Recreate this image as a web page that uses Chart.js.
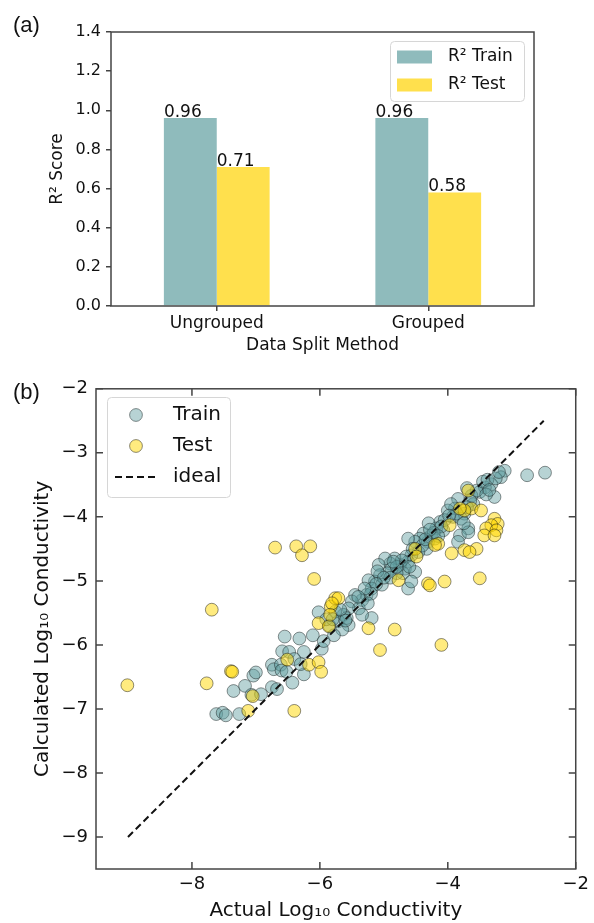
<!DOCTYPE html>
<html lang="en">
<head>
<meta charset="UTF-8">
<title>R2 scores and parity plot</title>
<script src="https://cdn.jsdelivr.net/npm/chart.js"></script>
<style>
  body { margin: 0; background: #fff; }
  #page { position: relative; width: 594px; height: 923px; }
  canvas { position: absolute; left: 0; }
  .tag { position: absolute; left: 13px; z-index: 2; font-family: "Liberation Sans", Arial, sans-serif; font-size: 22px; line-height: 26px; color: #111; }
</style>
</head>
<body>
<div id="page">
  <canvas id="barChart" width="594" height="370" style="top:0"></canvas>
  <canvas id="parityChart" width="594" height="553" style="top:370px"></canvas>
  <div class="tag" style="top:12px">(a)</div>
  <div class="tag" style="top:379px">(b)</div>
</div>

<script>
// (a) R2 scores per split method
const splitMethods = ['Ungrouped', 'Grouped'];
const r2Train = [0.96, 0.96];
const r2Test = [0.71, 0.58];
const r2Ticks = [0, 0.2, 0.4, 0.6, 0.8, 1.0, 1.2, 1.4];

// (b) actual vs calculated log10 conductivity  [actual, calculated]
const trainPoints = [
  [-7.62,-7.08],[-7.52,-7.06],[-7.47,-7.10],[-7.26,-7.08],[-7.35,-6.72],[-7.17,-6.64],[-7.04,-6.48],[-7.00,-6.43],
  [-7.07,-6.78],[-6.92,-6.77],[-6.75,-6.31],[-6.72,-6.38],[-6.75,-6.66],[-6.67,-6.69],[-6.59,-6.10],[-6.48,-6.11],
  [-6.61,-6.31],[-6.55,-5.87],[-6.43,-6.59],[-6.32,-5.90],[-6.25,-6.11],[-6.25,-6.46],[-6.11,-5.85],[-6.02,-5.49],
  [-5.97,-6.06],[-5.94,-5.94],[-6.40,-6.22],[-6.30,-6.30],[-6.60,-6.40],[-6.52,-6.42],
  [-2.48,-3.31],[-2.76,-3.35],[-3.11,-3.28],[-3.17,-3.38],[-3.27,-3.69],[-3.32,-3.49],[-3.42,-3.54],[-3.50,-3.61],
  [-3.63,-3.67],[-3.55,-3.59],[-3.84,-3.72],[-3.89,-3.87],[-4.00,-3.90],[-3.92,-4.00],[-3.74,-3.95],[-3.79,-4.03],
  [-3.68,-4.18],[-3.81,-4.29],[-3.84,-4.39],[-4.12,-4.08],[-4.18,-4.18],[-4.07,-4.21],[-4.26,-4.29],[-4.20,-4.34],
  [-4.31,-4.39],[-4.38,-4.26],[-4.44,-4.34],[-4.51,-4.39],[-4.62,-4.34],[-4.33,-4.50],[-4.46,-4.55],[-4.57,-4.60],
  [-4.62,-4.70],[-4.67,-4.81],[-4.75,-4.75],[-4.70,-4.88],[-4.51,-4.86],[-4.83,-4.65],[-4.90,-4.73],[-4.98,-4.65],
  [-4.88,-4.81],[-4.80,-4.88],[-4.95,-4.88],[-5.08,-4.75],[-5.06,-4.91],[-5.14,-5.01],[-5.24,-4.99],[-5.19,-5.12],
  [-5.03,-5.06],[-5.27,-5.22],[-5.34,-5.30],[-5.45,-5.22],[-5.50,-5.32],[-5.39,-5.43],[-5.55,-5.43],[-5.19,-5.58],
  [-5.34,-5.53],[-5.63,-5.53],[-5.71,-5.63],[-5.55,-5.69],[-5.65,-5.76],[-5.76,-5.48],[-4.62,-5.12],[-4.57,-5.01],
  [-3.68,-4.24],[-3.95,-3.80],[-4.05,-4.05],[-3.60,-3.80],[-3.45,-3.45],[-3.40,-3.65],[-3.70,-3.55],[-4.30,-4.10],
  [-4.90,-4.95],[-5.10,-4.85],[-4.40,-4.45],[-5.85,-5.70],[-5.90,-5.60],[-5.78,-5.85],
  [-3.38,-3.42],[-3.25,-3.40],[-3.20,-3.30],[-3.35,-3.58],[-3.65,-3.75],[-3.70,-3.85],[-3.86,-3.95],[-3.98,-3.98],
  [-3.75,-4.10],[-4.10,-4.15],[-4.22,-4.25],[-4.15,-4.30],[-4.35,-4.35],[-4.28,-4.20],[-4.55,-4.50],[-4.65,-4.62],
  [-4.72,-4.68],[-4.80,-4.78],[-4.85,-4.70],[-4.60,-4.78],[-5.00,-4.95],[-5.12,-5.05],[-5.20,-5.20],[-5.30,-5.12],
  [-5.40,-5.25],[-5.25,-5.35],[-5.58,-5.58],[-5.68,-5.45],[-5.80,-5.60],[-5.60,-5.62]
];
const testPoints = [
  [-6.70,-4.48],[-6.37,-4.46],[-6.15,-4.46],[-6.28,-4.60],[-6.09,-4.97],[-7.69,-5.45],[-9.01,-6.63],[-7.77,-6.60],
  [-7.39,-6.41],[-7.37,-6.42],[-7.05,-6.80],[-7.12,-7.03],[-6.40,-7.03],[-6.17,-6.31],[-6.02,-6.27],[-5.98,-6.42],
  [-6.51,-6.23],[-6.02,-5.66],[-5.83,-5.40],[-5.86,-5.71],[-5.76,-5.27],
  [-3.68,-3.59],[-3.63,-3.87],[-3.74,-3.90],[-3.81,-3.87],[-3.48,-3.90],[-3.97,-4.13],[-3.27,-4.03],[-3.22,-4.11],
  [-3.32,-4.13],[-3.40,-4.18],[-3.24,-4.21],[-3.43,-4.29],[-3.27,-4.29],[-4.15,-4.42],[-4.20,-4.44],[-3.94,-4.57],
  [-3.74,-4.52],[-3.55,-4.50],[-3.66,-4.55],[-4.51,-4.50],[-4.49,-4.62],[-4.77,-4.99],[-4.31,-5.04],[-4.28,-5.07],
  [-4.05,-5.01],[-3.50,-4.96],[-5.71,-5.27],[-5.81,-5.35],[-5.84,-5.53],[-5.24,-5.74],[-4.83,-5.76],
  [-5.06,-6.08],[-4.10,-6.00]
];
const idealRange = [-9, -2.5];
const logTicksX = [-8, -6, -4, -2];
const logTicksY = [-2, -3, -4, -5, -6, -7, -8, -9];

const FONT = '"DejaVu Sans", sans-serif';
const INK = '#111';
const AXIS = '#444';
const minus = v => String(v).replace('-', '\u2212');

// box around the plot area; optional inward ticks on all four sides
const frameTicks = {
  id: 'frameTicks',
  afterDraw(chart, args, opts) {
    const {ctx, chartArea: a, scales} = chart;
    ctx.save();
    ctx.strokeStyle = AXIS;
    ctx.lineWidth = 1.5;
    ctx.strokeRect(a.left, a.top, a.right - a.left, a.bottom - a.top);
    if (opts.inward) {
      const len = opts.len;
      ctx.beginPath();
      scales.x.ticks.forEach(t => {
        const px = scales.x.getPixelForValue(t.value);
        ctx.moveTo(px, a.bottom); ctx.lineTo(px, a.bottom - len);
        ctx.moveTo(px, a.top); ctx.lineTo(px, a.top + len);
      });
      scales.y.ticks.forEach(t => {
        const py = scales.y.getPixelForValue(t.value);
        ctx.moveTo(a.left, py); ctx.lineTo(a.left + len, py);
        ctx.moveTo(a.right, py); ctx.lineTo(a.right - len, py);
      });
      ctx.stroke();
    }
    ctx.restore();
  }
};

// numbers written on top of each bar
const barValues = {
  id: 'barValues',
  afterDatasetsDraw(chart) {
    const ctx = chart.ctx;
    ctx.save();
    ctx.font = '17px ' + FONT;
    ctx.fillStyle = INK;
    ctx.textAlign = 'left';
    ctx.textBaseline = 'alphabetic';
    chart.data.datasets.forEach((ds, i) => {
      chart.getDatasetMeta(i).data.forEach((bar, j) => {
        ctx.fillText(ds.data[j].toFixed(2), bar.x - bar.width / 2, bar.y - 1);
      });
    });
    ctx.restore();
  }
};

function legendBox(ctx, x, y, w, h) {
  ctx.beginPath();
  ctx.roundRect(x, y, w, h, 4);
  ctx.fillStyle = 'rgba(255,255,255,0.85)';
  ctx.fill();
  ctx.strokeStyle = '#d6d6d6';
  ctx.lineWidth = 1;
  ctx.stroke();
}

const barLegend = {
  id: 'barLegend',
  afterDraw(chart) {
    const ctx = chart.ctx;
    ctx.save();
    legendBox(ctx, 390.5, 41.5, 134, 60);
    ctx.font = '17px ' + FONT;
    ctx.textBaseline = 'middle';
    chart.data.datasets.forEach((ds, i) => {
      const cy = 57 + i * 28;
      ctx.fillStyle = ds.backgroundColor;
      ctx.fillRect(397, cy - 6.5, 35, 13);
      ctx.fillStyle = INK;
      ctx.fillText(ds.label, 448, cy);
    });
    ctx.restore();
  }
};

const parityLegend = {
  id: 'parityLegend',
  afterDraw(chart) {
    const ctx = chart.ctx;
    ctx.save();
    legendBox(ctx, 107.5, 27.5, 123, 100);
    ctx.font = '20px ' + FONT;
    ctx.textBaseline = 'middle';
    chart.data.datasets.forEach((ds, i) => {
      const cy = 45 + i * 31;
      if (ds.showLine) {
        ctx.strokeStyle = ds.borderColor;
        ctx.lineWidth = ds.borderWidth;
        ctx.setLineDash(ds.borderDash);
        ctx.beginPath();
        ctx.moveTo(115, cy); ctx.lineTo(157, cy);
        ctx.stroke();
        ctx.setLineDash([]);
      } else {
        ctx.beginPath();
        ctx.arc(136, cy, ds.pointRadius, 0, Math.PI * 2);
        ctx.fillStyle = ds.backgroundColor;
        ctx.fill();
        ctx.strokeStyle = ds.borderColor;
        ctx.lineWidth = 1;
        ctx.stroke();
      }
      ctx.fillStyle = INK;
      ctx.fillText(ds.label, 173, cy);
    });
    ctx.restore();
  }
};

// ---------- (a) bar chart ----------
new Chart(document.getElementById('barChart'), {
  type: 'bar',
  data: {
    labels: splitMethods,
    datasets: [
      { label: 'R\u00b2 Train', data: r2Train, backgroundColor: '#8FBBBC' },
      { label: 'R\u00b2 Test', data: r2Test, backgroundColor: '#FFE04D' }
    ]
  },
  options: {
    responsive: false,
    animation: false,
    events: [],
    layout: { padding: { top: 32, right: 60, left: 0, bottom: 0 } },
    datasets: { bar: { categoryPercentage: 0.5, barPercentage: 1.0 } },
    plugins: { legend: { display: false }, tooltip: { enabled: false }, frameTicks: { inward: false } },
    scales: {
      x: {
        grid: { drawOnChartArea: false, offset: false, tickLength: 5, color: AXIS, lineWidth: 1.5 },
        border: { display: false },
        ticks: { color: INK, font: { family: FONT, size: 17 }, padding: 2 },
        title: { display: true, text: 'Data Split Method', color: INK, font: { family: FONT, size: 17 }, padding: { top: 0, bottom: 14 } },
        afterFit: s => { s.height = 64; }
      },
      y: {
        min: 0, max: 1.4,
        afterBuildTicks: s => { s.ticks = r2Ticks.map(v => ({ value: v })); },
        grid: { drawOnChartArea: false, tickLength: 5, color: AXIS, lineWidth: 1.5 },
        border: { display: false },
        ticks: { color: INK, font: { family: FONT, size: 16 }, padding: 5, callback: v => v.toFixed(1) },
        title: { display: true, text: 'R\u00b2 Score', color: INK, font: { family: FONT, size: 17 }, padding: { top: 47, bottom: 0 } },
        afterFit: s => { s.width = 111; }
      }
    }
  },
  plugins: [frameTicks, barValues, barLegend]
});

// ---------- (b) parity scatter ----------
const toXY = arr => arr.map(p => ({ x: p[0], y: p[1] }));
new Chart(document.getElementById('parityChart'), {
  type: 'scatter',
  data: {
    datasets: [
      { label: 'Train', data: toXY(trainPoints), order: 3, pointRadius: 6.4, borderWidth: 1,
        backgroundColor: 'rgba(95,158,160,0.45)', borderColor: 'rgba(30,40,40,0.5)' },
      { label: 'Test', data: toXY(testPoints), order: 2, pointRadius: 6.4, borderWidth: 1,
        backgroundColor: 'rgba(255,215,0,0.5)', borderColor: 'rgba(30,30,20,0.5)' },
      { label: 'ideal', data: toXY(idealRange.map(v => [v, v])), order: 1, showLine: true, pointRadius: 0,
        borderColor: '#111', borderWidth: 2, borderDash: [7, 4] }
    ]
  },
  options: {
    responsive: false,
    animation: false,
    events: [],
    layout: { padding: { top: 16, right: 16, left: 0, bottom: 0 } },
    plugins: { legend: { display: false }, tooltip: { enabled: false }, frameTicks: { inward: true, len: 7 } },
    scales: {
      x: {
        min: -9.5, max: -2,
        afterBuildTicks: s => { s.ticks = logTicksX.map(v => ({ value: v })); },
        grid: { display: false, drawTicks: false },
        border: { display: false },
        ticks: { color: INK, font: { family: FONT, size: 18 }, padding: 5, callback: minus },
        title: { display: true, text: 'Actual Log\u2081\u2080 Conductivity', color: INK, font: { family: FONT, size: 20 }, padding: { top: 0, bottom: 0 } },
        afterFit: s => { s.height = 54; }
      },
      y: {
        min: -9.5, max: -2,
        afterBuildTicks: s => { s.ticks = logTicksY.map(v => ({ value: v })); },
        grid: { display: false, drawTicks: false },
        border: { display: false },
        ticks: { color: INK, font: { family: FONT, size: 18 }, padding: 8, callback: minus },
        title: { display: true, text: 'Calculated Log\u2081\u2080 Conductivity', color: INK, font: { family: FONT, size: 20 }, padding: { top: 31, bottom: 0 } },
        afterFit: s => { s.width = 96; }
      }
    }
  },
  plugins: [frameTicks, parityLegend]
});
</script>
</body>
</html>
